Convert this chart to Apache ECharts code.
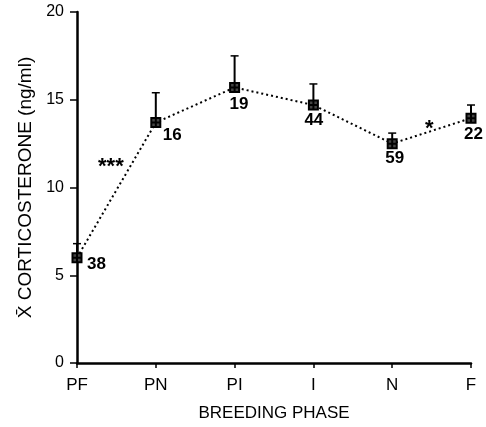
<!DOCTYPE html>
<html>
<head>
<meta charset="utf-8">
<script src="https://cdn.jsdelivr.net/npm/echarts@6/dist/echarts.min.js"></script>
<style>
	html, body { margin: 0; padding: 0; background: #fff; }
	#chart { width: 486px; height: 427px; }
</style>
</head>
<body>
<div id="chart"></div>
<script>
// breeding phases along x
const phases = ['PF', 'PN', 'PI', 'I', 'N', 'F'];
// mean corticosterone (ng/ml) and top of the error bar
const means = [6.0, 13.7, 15.7, 14.7, 12.5, 13.95];
const upper = [6.8, 15.4, 17.5, 15.9, 13.1, 14.7];
// sample sizes written beside the points
const sampleN = ['38', '16', '19', '44', '59', '22'];
// significance marks: [x, y, text]
const sigMarks = [[0.43, 11.5, '***'], [4.47, 13.7, '*']];

const FONT = '"Liberation Sans", Arial, sans-serif';
// where each sample size sits relative to its point
const labelPos = [[10, 7], [7, 13], [-5, 17], [-9, 15], [-7, 15], [-7, 16]];

const chart = echarts.init(document.getElementById('chart'), null, {renderer: 'canvas'});

chart.setOption({
	animation: false,
	backgroundColor: '#fff',
	textStyle: {fontFamily: FONT, color: '#000'},
	grid: {left: 77, right: 15, top: 12, bottom: 62},
	xAxis: {
		type: 'value',
		min: 0,
		max: 5,
		interval: 1,
		name: 'BREEDING PHASE',
		nameLocation: 'middle',
		nameGap: 42,
		nameTextStyle: {fontSize: 17, color: '#000', fontFamily: FONT},
		axisLine: {lineStyle: {color: '#000', width: 2.5}},
		axisTick: {show: true, length: 5, lineStyle: {color: '#000', width: 1.5}},
		axisLabel: {
			color: '#000', fontSize: 17, margin: 14, fontFamily: FONT,
			formatter: v => phases[v] ?? ''
		},
		splitLine: {show: false}
	},
	yAxis: {
		type: 'value',
		min: 0,
		max: 20,
		interval: 5,
		name: 'X\u0304 CORTICOSTERONE (ng/ml)',
		nameLocation: 'middle',
		nameGap: 40,
		nameTextStyle: {fontSize: 19, color: '#000', fontFamily: FONT},
		axisLine: {show: true, lineStyle: {color: '#000', width: 2.5}},
		axisTick: {show: true, length: 7, lineStyle: {color: '#000', width: 1.5}},
		axisLabel: {color: '#000', fontSize: 16, margin: 13, fontFamily: FONT},
		splitLine: {show: false}
	},
	series: [
		{
			name: 'errors',
			type: 'custom',
			z: 3,
			data: means.map((m, i) => [i, m, upper[i]]),
			renderItem: (params, api) => {
				const base = api.coord([api.value(0), api.value(1)]);
				const top = api.coord([api.value(0), api.value(2)]);
				return {
					type: 'group',
					children: [
						{type: 'line', shape: {x1: base[0], y1: base[1], x2: top[0], y2: top[1]},
							style: {stroke: '#000', lineWidth: 2}},
						{type: 'line', shape: {x1: top[0] - 4, y1: top[1], x2: top[0] + 4, y2: top[1]},
							style: {stroke: '#000', lineWidth: 1.5}}
					]
				};
			}
		},
		{
			name: 'mean',
			type: 'line',
			z: 4,
			data: means.map((m, i) => ({
				value: [i, m],
				label: {
					show: true,
					position: 'inside',
					offset: labelPos[i],
					formatter: () => sampleN[i],
					color: '#000',
					fontSize: 17,
					fontWeight: 'bold',
					fontFamily: FONT,
					align: 'left',
					verticalAlign: 'middle'
				}
			})),
			symbol: 'path://M0,0H10V10H0Z M5,0V10 M0,5H10',
			symbolSize: 9,
			itemStyle: {color: '#444', borderColor: '#000', borderWidth: 2},
			lineStyle: {color: '#000', width: 2, type: [2, 3]}
		},
		{
			name: 'significance',
			type: 'scatter',
			symbolSize: 0,
			itemStyle: {opacity: 1, color: '#000'},
			data: sigMarks.map(s => [s[0], s[1]]),
			label: {
				show: true,
				position: 'inside',
				offset: [0, 6],
				formatter: p => sigMarks[p.dataIndex][2],
				color: '#000',
				fontSize: 22,
				fontWeight: 'bold',
				fontFamily: FONT
			}
		}
	]
});
</script>
</body>
</html>
